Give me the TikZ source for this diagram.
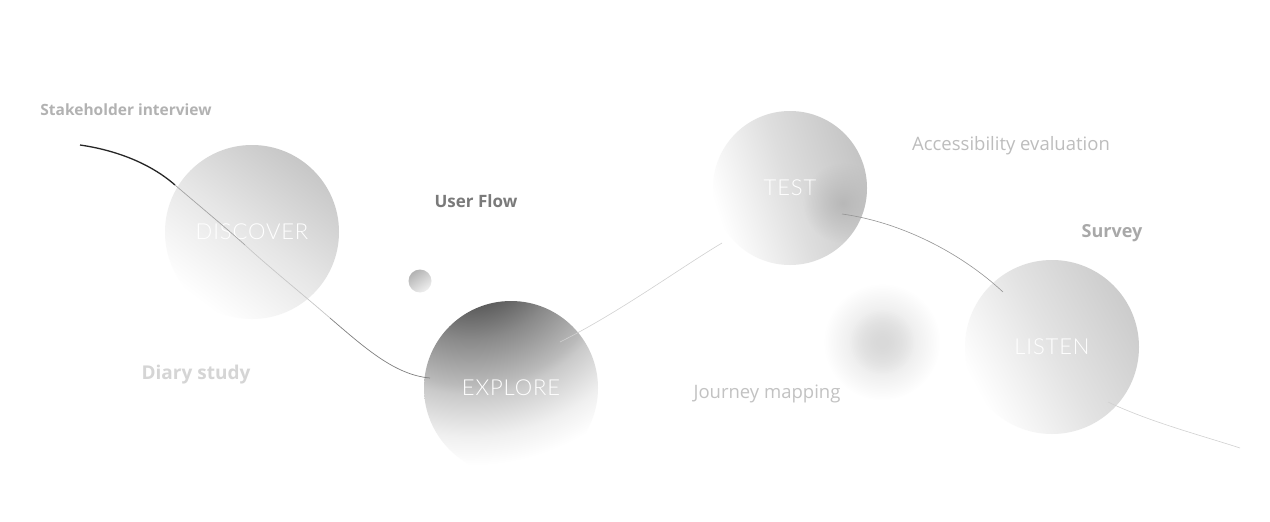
\documentclass[tikz,border=0pt]{standalone}
\usepackage{fontspec}
\setmainfont{Open Sans}
\newfontfamily\lightfont{Lato Light}[LetterSpace=4]
\usetikzlibrary{fadings}
\tikzfading[name=spotfade, inner color=transparent!0, outer color=transparent!100]
\pgfdeclareradialshading{exploreshade}{\pgfpointorigin}{color(0bp)=(black!74); color(6.8bp)=(black!64); color(10.4bp)=(black!46); color(15.1bp)=(black!27); color(16.1bp)=(black!21); color(20.5bp)=(black!6); color(23.5bp)=(white); color(50bp)=(white)}
\tikzset{
  ball/.style={circle, inner sep=0pt, minimum size=#1, text=white,
    font=\lightfont\fontsize{22}{26}\selectfont},
  lbl/.style={inner sep=1pt, font=\fontsize{18.5}{22}\selectfont},
  blurlbl/.style={inner sep=1pt, font=\bfseries\fontsize{#1}{20}\selectfont, opacity=0.75},
  soft/.style={fill=black!#1, path fading=spotfade},
}
\begin{document}
\begin{tikzpicture}[x=1pt,y=-1pt]
\useasboundingbox (0,0) rectangle (1270,522);
\fill[white] (0,0) rectangle (1270,522);

% soft blurred blob
\coordinate (blob) at (882,342);
\path[soft=14] (blob) circle[radius=58];
\path[soft=15] (blob) circle[radius=32];

% spheres
\node[ball=174pt, top color=black!22, bottom color=white, middle color=black!10, shading angle=-37] (discover) at (252,232) {DISCOVER};

\coordinate (explorec) at (511,388);
\coordinate (explorefocus) at (470,240);
\begin{scope}
  \clip (explorec) circle[radius=87];
  \shade[shading=exploreshade] (explorefocus) circle[radius=240];
\end{scope}
\node[ball=174pt] (explore) at (explorec) {EXPLORE};

\node[ball=154pt, top color=black!23, bottom color=white, middle color=black!13, shading angle=-72] (test) at (790,188) {TEST};
\coordinate (testspot) at (843,203);
\begin{scope}
  \clip (test.center) circle[radius=77pt];
  \path[soft=28] (testspot) circle[radius=40];
\end{scope}
\node[ball=174pt, top color=black!20, bottom color=white, middle color=black!11, shading angle=-62] (listen) at (1052,347) {LISTEN};
\node[circle, inner sep=0pt, minimum size=23pt, top color=black!30, bottom color=white!94!black, shading angle=35] (dot) at (420,281) {};

% flow line
\coordinate (c0) at (80,145);
\coordinate (c1) at (175,185);
\coordinate (m1) at (245,245);
\coordinate (c2) at (330,318);
\coordinate (c3) at (430,378);
\coordinate (c4) at (560,342);
\coordinate (c5) at (722,243);
\coordinate (c6) at (842,214);
\coordinate (c7) at (1003,292);
\coordinate (c8) at (1108,402);
\coordinate (c9) at (1240,448);
\draw[black!85, line width=1.3pt] (c0) .. controls (115,150) and (150,163) .. (c1);
\draw[black!36, line width=0.7pt] (c1) .. controls (190,198) and (225,227) .. (m1);
\draw[black!22, line width=0.7pt] (m1) .. controls (270,268) and (300,292) .. (c2);
\draw[black!50, line width=0.7pt] (c2) .. controls (365,348) and (395,375) .. (c3);
\draw[black!18, line width=0.6pt] (c4) .. controls (620,312) and (680,268) .. (c5);
\draw[black!42, line width=0.6pt] (c6) .. controls (900,222) and (960,252) .. (c7);
\draw[black!18, line width=0.6pt] (c8) .. controls (1150,422) and (1200,435) .. (c9);

% labels
\node[blurlbl=15.5, text=black!40] (stake) at (126,110) {Stakeholder interview};
\node[inner sep=1pt, font=\bfseries\fontsize{17}{20}\selectfont, text=black!52] (userflow) at (476,201) {User Flow};
\node[lbl, text=black!26] (access) at (1011,146) {Accessibility evaluation};
\node[blurlbl=18, text=black!45] (survey) at (1112,233) {Survey};
\node[blurlbl=19, text=black!22] (diary) at (196,375) {Diary study};
\node[lbl, text=black!24] (journey) at (767,394) {Journey mapping};
\end{tikzpicture}
\end{document}
